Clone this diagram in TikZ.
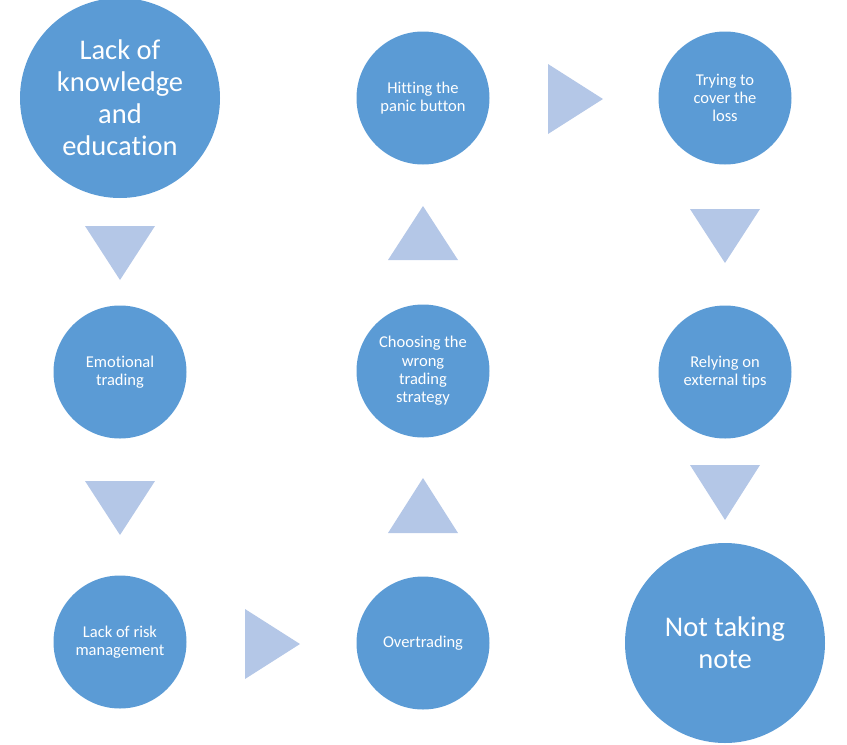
\documentclass[tikz,border=0pt]{standalone}
\usepackage{fontspec}
\setmainfont{Carlito}[Ligatures=NoCommon]
\usetikzlibrary{positioning}
\definecolor{circblue}{HTML}{5B9BD5}
\definecolor{tripale}{HTML}{B4C7E7}
\begin{document}
\begin{tikzpicture}[x=1pt, y=-1pt,
    bigcirc/.style={circle, fill=circblue, text=white, inner sep=0pt, minimum size=200pt, align=center, font=\fontsize{28.5}{32}\selectfont},
    smallcirc/.style={circle, fill=circblue, text=white, inner sep=0pt, minimum size=133pt, align=center, font=\fontsize{16.5}{18.3}\selectfont},
    arrowtri/.style={fill=tripale}]
    \useasboundingbox (0,0) rectangle (847,745);

    % Left column
    \node[bigcirc] (knowledge) at (120,98) {Lack of\\knowledge\\and\\education};
    \node[smallcirc] (emotional) at (120,372) {Emotional\\trading};
    \node[smallcirc] (risk) at (120,642) {Lack of risk\\management};

    % Middle column
    \node[smallcirc] (overtrading) at (423,643) {Overtrading};
    \node[smallcirc] (strategy) at (423,371) {Choosing the\\wrong\\trading\\strategy};
    \node[smallcirc] (panic) at (423,98) {Hitting the\\panic button};

    % Right column
    \node[smallcirc] (cover) at (725,98) {Trying to\\cover the\\loss};
    \node[smallcirc] (tips) at (725,372) {Relying on\\external tips};
    \node[bigcirc] (note) at (725,643) {Not taking\\note};

    % Triangles pointing down the left column
    \fill[arrowtri] (85,226) -- (155,226) -- (120,280) -- cycle;
    \fill[arrowtri] (85,481) -- (155,481) -- (120,535) -- cycle;
    % Triangle across to the middle column
    \fill[arrowtri] (245,609) -- (245,679) -- (300,644) -- cycle;
    % Triangles pointing up the middle column
    \fill[arrowtri] (388,533) -- (458,533) -- (423,478) -- cycle;
    \fill[arrowtri] (388,260) -- (458,260) -- (423,206) -- cycle;
    % Triangle across to the right column
    \fill[arrowtri] (548,64) -- (548,134) -- (603,99) -- cycle;
    % Triangles pointing down the right column
    \fill[arrowtri] (690,209) -- (760,209) -- (725,263) -- cycle;
    \fill[arrowtri] (690,465) -- (760,465) -- (725,520) -- cycle;
\end{tikzpicture}
\end{document}
